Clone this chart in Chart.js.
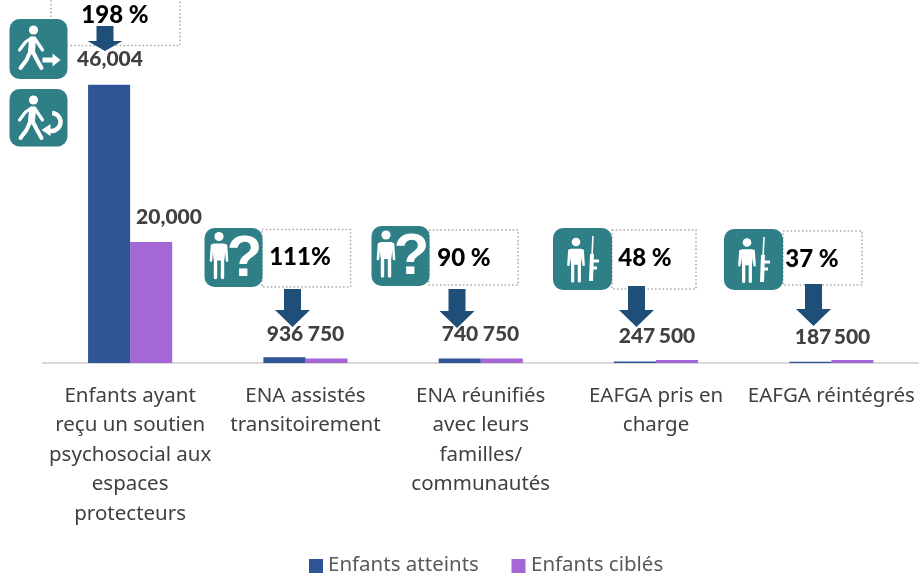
<!DOCTYPE html>
<html><head><meta charset="utf-8">
<style>html,body{margin:0;padding:0;background:#fff}#w{width:919px;height:578px;position:relative}</style>
<script src="https://cdn.jsdelivr.net/npm/chart.js@4"></script>
</head><body><div id="w"><canvas id="c" width="919" height="578"></canvas></div>
<script>
const categories = [
  ["Enfants ayant","reçu un soutien","psychosocial aux","espaces","protecteurs"],
  ["ENA assistés","transitoirement"],
  ["ENA réunifiés","avec leurs","familles/","communautés"],
  ["EAFGA pris en","charge"],
  ["EAFGA réintégrés"]
];
const reached = [46004, 936, 740, 247, 187];
const targeted = [20000, 750, 750, 500, 500];
const reachedLabels = ["46,004","936","740","247","187"];
const targetedLabels = ["20,000","750","750","500","500"];
const rates = ["198 %","111%","90 %","48 %","37 %"];

// Decoration layout (pixels), kept apart from the data
const callouts = [
 {icon:'walk', ix:9.5, iy:19, iw:58, ih:60, box:[51,-10,180,45.5], tx:115, ty:15, ax:105, ay:26, at:51, ah:41},
 {icon:'ask', ix:204.5, iy:228, iw:58, ih:59, box:[262,229.5,350.5,287], tx:300, ty:257, ax:292.5, ay:289, at:327, ah:310},
 {icon:'ask', ix:371.5, iy:226, iw:58, ih:60, box:[429,230,518,285], tx:464, ty:258, ax:457, ay:289, at:328, ah:311},
 {icon:'gun', ix:553, iy:228, iw:59, ih:62, box:[612,230,696,289], tx:645, ty:258, ax:636.5, ay:286, at:327, ah:310},
 {icon:'gun', ix:724, iy:229, iw:59, ih:61, box:[783,231,862,285], tx:812, ty:259, ax:813.5, ay:284, at:326, ah:309}
];
const valueLabelPos = [
 {rx:110, ry:59, tx:169, ty:217},
 {rx:285, ry:334, tx:326, ty:334},
 {rx:460, ry:334, tx:501, ty:334},
 {rx:637, ry:336, tx:677, ty:336},
 {rx:813, ry:337, tx:852, ty:337}
];
const legendLayout = [{bx:309,tx:328},{bx:511.5,tx:531}];

function person(g,x,y,s){
  g.fillStyle='#fff';g.strokeStyle='#fff';g.lineCap='round';g.lineJoin='round';
  g.beginPath();g.arc(x,y-20*s,4.6*s,0,7);g.fill();
  g.lineWidth=4*s;
  g.beginPath();g.moveTo(x-5*s,y-11*s);g.lineTo(x+5*s,y-11*s);g.lineTo(x+3.5*s,y+2*s);g.lineTo(x-3.5*s,y+2*s);g.closePath();g.fill();g.stroke();
  g.lineWidth=3.4*s;
  g.beginPath();g.moveTo(x-3.5*s,y+2*s);g.lineTo(x-3.5*s,y+21*s);g.moveTo(x+3.5*s,y+2*s);g.lineTo(x+3.5*s,y+21*s);g.stroke();
  g.lineWidth=2.6*s;
  g.beginPath();g.moveTo(x-7*s,y-11*s);g.lineTo(x-8*s,y+4*s);g.moveTo(x+7*s,y-11*s);g.lineTo(x+8*s,y+4*s);g.stroke();
}
function walker(g,x,y){
  g.fillStyle='#fff';g.strokeStyle='#fff';g.lineCap='round';g.lineJoin='round';
  g.beginPath();g.arc(x+1,y-18,4.6,0,7);g.fill();
  g.lineWidth=7;g.beginPath();g.moveTo(x,y-8);g.lineTo(x-1,y+3);g.stroke();
  g.lineWidth=3.2;
  g.beginPath();g.moveTo(x-1,y-10);g.lineTo(x-7,y-6);g.lineTo(x-13,y+2);g.stroke();
  g.beginPath();g.moveTo(x+2,y-10);g.lineTo(x+6,y-4);g.lineTo(x+10,y+2);g.stroke();
  g.lineWidth=4;
  g.beginPath();g.moveTo(x-2,y+3);g.lineTo(x-6,y+12);g.lineTo(x-12,y+20);g.stroke();
  g.beginPath();g.moveTo(x,y+3);g.lineTo(x+4,y+11);g.lineTo(x+9,y+20);g.stroke();
}
function drawIcon(g,c,kind){
  g.save();
  g.fillStyle='#2F7F86';
  g.beginPath();g.roundRect(c.x,c.y,c.w,c.h,10);g.fill();
  const my=c.y+c.h/2;
  if(kind==='walk'){
    walker(g,c.x+23,c.y+29);
    g.fillStyle='#fff';g.beginPath();
    const ax=c.x+33,ay=c.y+41;
    g.moveTo(ax,ay-2.5);g.lineTo(ax+10,ay-2.5);g.lineTo(ax+10,ay-6.5);g.lineTo(ax+18,ay);g.lineTo(ax+10,ay+6.5);g.lineTo(ax+10,ay+2.5);g.lineTo(ax,ay+2.5);g.closePath();g.fill();
  } else if(kind==='back'){
    walker(g,c.x+23,c.y+29);
    g.strokeStyle='#fff';g.lineWidth=4.5;g.lineCap='butt';
    g.beginPath();g.arc(c.x+42,c.y+33,9,-1.5,2.0);g.stroke();
    g.fillStyle='#fff';g.beginPath();g.moveTo(c.x+32,c.y+41);g.lineTo(c.x+41,c.y+35);g.lineTo(c.x+41,c.y+47);g.closePath();g.fill();
  } else if(kind==='ask'){
    person(g,c.x+14.5,my-1,1.0);
    g.fillStyle='#fff';
    g.font='bold 58px "Liberation Sans"';g.textAlign='center';g.textBaseline='middle';
    g.fillText('?',c.x+40,my+2);
  } else {
    person(g,c.x+23,my+2,0.95);
    g.strokeStyle='#fff';g.lineCap='butt';
    g.lineWidth=1.6;g.beginPath();g.moveTo(c.x+40,c.y+8);g.lineTo(c.x+39,c.y+28);g.stroke();
    g.lineWidth=4;g.beginPath();g.moveTo(c.x+39,c.y+26);g.lineTo(c.x+38,c.y+53);g.stroke();
    g.lineWidth=3;g.beginPath();g.moveTo(c.x+39,c.y+33);g.lineTo(c.x+46,c.y+33);g.moveTo(c.x+39,c.y+40);g.lineTo(c.x+44,c.y+40);g.stroke();
  }
  g.restore();
}
const decorations = {
  id:'decorations',
  afterDatasetsDraw(chart){
    const g=chart.ctx;
    g.save();
    g.fillStyle='#404040';g.font='900 21px Lato';g.textAlign='center';g.textBaseline='middle';
    valueLabelPos.forEach((p,i)=>{
      g.fillText(reachedLabels[i],p.rx,p.ry);
      g.fillText(targetedLabels[i],p.tx,p.ty);
    });
    callouts.forEach((c,i)=>{
      g.strokeStyle='#ABABAB';g.lineWidth=1.5;g.setLineDash([1.6,2.2]);
      const b=c.box;
      g.strokeRect(b[0],b[1],b[2]-b[0],b[3]-b[1]);
      g.setLineDash([]);
      drawIcon(g,{x:c.ix,y:c.iy,w:c.iw,h:c.ih},c.icon);
      g.fillStyle='#1F4E79';
      g.beginPath();
      g.moveTo(c.ax-8.5,c.ay);g.lineTo(c.ax+8.5,c.ay);g.lineTo(c.ax+8.5,c.ah);g.lineTo(c.ax+17.5,c.ah);
      g.lineTo(c.ax,c.at);g.lineTo(c.ax-17.5,c.ah);g.lineTo(c.ax-8.5,c.ah);g.closePath();g.fill();
      g.fillStyle='#000';g.font='900 24px Lato';g.textAlign='center';g.textBaseline='middle';
      g.fillText(rates[i],c.tx,c.ty);
    });
    drawIcon(g,{x:9.5,y:89,w:58,h:57.5},'back');
    // legend
    g.font='20.5px "Noto Sans"';g.textAlign='left';g.textBaseline='middle';
    chart.data.datasets.forEach((d,i)=>{
      const l=legendLayout[i];
      g.fillStyle=d.backgroundColor;g.fillRect(l.bx,559,14,14);
      g.fillStyle='#595959';g.fillText(d.label,l.tx,565);
    });
    g.restore();
  }
};
new Chart(document.getElementById('c'),{
  type:'bar',
  data:{labels:categories,datasets:[
    {label:'Enfants atteints',data:reached,backgroundColor:'#2F5597',categoryPercentage:0.48,barPercentage:1},
    {label:'Enfants ciblés',data:targeted,backgroundColor:'#A566D6',categoryPercentage:0.48,barPercentage:1}
  ]},
  options:{
    responsive:false,animation:false,
    layout:{padding:{left:42.5,right:0,top:0,bottom:0}},
    plugins:{tooltip:{enabled:false},legend:{display:false}},
    scales:{
      y:{display:false,min:0,max:60000},
      x:{
        grid:{display:false},
        border:{color:'#D9D9D9',width:2},
        ticks:{autoSkip:false,maxRotation:0,minRotation:0,padding:10,color:'#404040',
          font:{family:'"Noto Sans"',size:20.5,lineHeight:1.44}},
        afterFit(s){s.height=215;s.paddingLeft=0;s.paddingRight=0;}
      }
    }
  },
  plugins:[decorations]
});
</script></body></html>
